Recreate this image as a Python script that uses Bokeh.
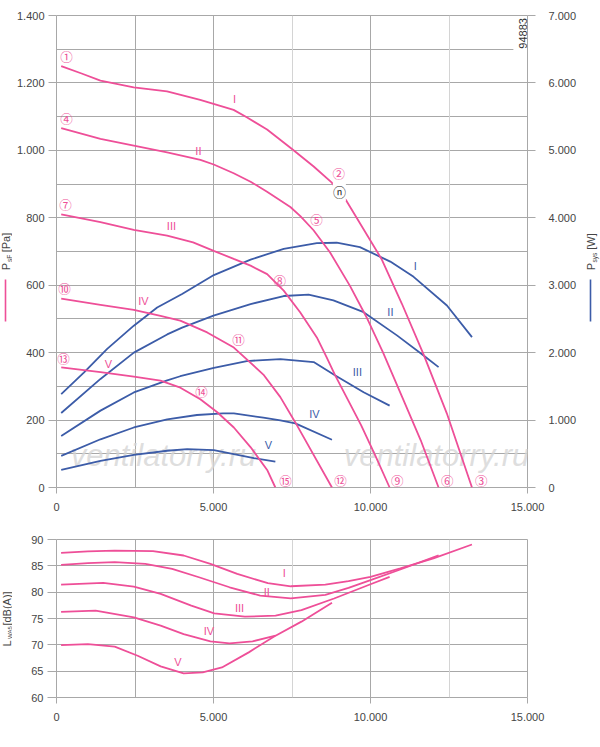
from math import pi

from bokeh.embed import file_html
from bokeh.layouts import column, row
from bokeh.models import BoxAnnotation, FixedTicker, Grid, Label, LinearAxis, Range1d
from bokeh.plotting import figure
from bokeh.resources import INLINE

# ---- axes ----
flow_ticks = [0, 5000, 10000, 15000]
flow_grid = [0, 2500, 5000, 10000, 15000]
flow_grid_light = [7500, 12500]
pa_ticks = [0, 200, 400, 600, 800, 1000, 1200, 1400]
pa_grid = [0, 100, 200, 300, 400, 500, 600, 700, 800, 900, 1000, 1100, 1200, 1300, 1400]
watt_ticks = [0, 1000, 2000, 3000, 4000, 5000, 6000, 7000]
db_ticks = [60, 65, 70, 75, 80, 85, 90]

curve_names = ["I", "II", "III", "IV", "V"]

# ---- static pressure psF [Pa] over qv [m3/h] ----
psf_I_q = [150, 800, 1400, 2460, 3520, 4576, 5640, 6059, 6706, 7500, 8190, 8760, 9009, 9236, 10350, 11000, 11690, 12430, 13232]
psf_I = [1250, 1228, 1207, 1187, 1175, 1150, 1120, 1098, 1062, 1004, 952, 905, 877, 850, 678, 545, 395, 220, 0]
psf_II_q = [150, 1400, 2461, 3523, 4583, 5007, 5643, 6181, 6706, 7447, 7766, 8186, 8713, 9346, 9874, 10401, 11000, 11600, 12168]
psf_II = [1066, 1034, 1014, 994, 972, 958, 932, 907, 877, 832, 805, 763, 697, 598, 505, 400, 270, 140, 0]
psf_III_q = [150, 1400, 2461, 3523, 4350, 5007, 5643, 6181, 6709, 7236, 7764, 8291, 8608, 8879, 9236, 9700, 10150, 10609]
psf_III = [810, 787, 764, 747, 727, 702, 678, 658, 633, 584, 519, 445, 385, 332, 268, 185, 95, 0]
psf_IV_q = [150, 1401, 2463, 3312, 3941, 4799, 5648, 6588, 7129, 7606, 8773]
psf_IV = [560, 542, 527, 509, 495, 460, 415, 335, 268, 193, 0]
psf_V_q = [150, 1401, 2463, 3312, 3945, 4580, 5110, 5648, 6178, 6709, 6970]
psf_V = [356, 342, 329, 317, 296, 262, 224, 178, 120, 52, 0]

# ---- power consumption Psys [W] ----
sys_I_q = [150, 870, 1614, 2463, 3206, 4000, 5011, 6181, 7236, 8291, 8924, 9663, 10630, 11373, 12434, 13232]
sys_I = [1385, 1705, 2055, 2400, 2670, 2870, 3150, 3380, 3540, 3625, 3630, 3565, 3350, 3124, 2700, 2230]
sys_II_q = [150, 1401, 2463, 3525, 4000, 5000, 6181, 7236, 8028, 8819, 9781, 10842, 11691, 12168]
sys_II = [1105, 1610, 2000, 2270, 2370, 2550, 2720, 2840, 2860, 2775, 2600, 2256, 1958, 1785]
sys_III_q = [150, 1401, 2463, 3525, 3941, 5011, 6059, 7129, 8190, 8879, 9781, 10609]
sys_III = [765, 1140, 1410, 1590, 1650, 1775, 1875, 1905, 1860, 1660, 1413, 1214]
sys_IV_q = [150, 1401, 2463, 3525, 4471, 5300, 5648, 6588, 7129, 7606, 8773]
sys_IV = [470, 715, 890, 1010, 1075, 1100, 1100, 1035, 995, 950, 708]
sys_V_q = [150, 1401, 2463, 3525, 4161, 5011, 5648, 6285, 6970]
sys_V = [263, 395, 485, 545, 570, 555, 495, 435, 385]

# ---- sound power LWA5 [dB(A)] ----
lwa_I_q = [146, 1000, 1854, 3073, 4049, 4902, 5756, 6732, 7463, 8561, 9300, 10000, 10950, 12005, 13232]
lwa_I = [87.46, 87.75, 87.9, 87.8, 86.96, 85.37, 83.47, 81.7, 81.12, 81.44, 82.1, 82.9, 84.5, 86.4, 89.05]
lwa_II_q = [146, 1000, 1854, 2829, 3683, 4537, 5512, 6488, 7463, 8561, 9300, 10000, 10950, 12170]
lwa_II = [85.18, 85.5, 85.69, 85.37, 84.42, 82.83, 80.93, 79.35, 78.84, 79.5, 80.8, 82.28, 84.3, 87.0]
lwa_III_q = [146, 1488, 2463, 3317, 4293, 5024, 6000, 6976, 7800, 8840, 10000, 10609]
lwa_III = [81.44, 81.76, 81.06, 79.66, 77.44, 75.99, 75.35, 75.54, 76.6, 78.8, 81.5, 82.9]
lwa_IV_q = [146, 1244, 2463, 3317, 4049, 4902, 5512, 6244, 6976, 7800, 8774]
lwa_IV = [76.24, 76.49, 75.22, 73.64, 72.05, 70.66, 70.28, 70.66, 71.74, 74.4, 78.0]
lwa_V_q = [146, 1000, 1854, 2585, 3317, 4049, 4659, 5268, 6122, 6970]
lwa_V = [69.96, 70.15, 69.65, 67.93, 65.9, 64.57, 64.76, 65.71, 68.57, 71.74]

FONT = "Liberation Sans"
CJK = "Noto Sans CJK JP"
PINK = "#ee4f98"
BLUE = "#3c5ca8"
GRID = "#a8a8a8"
GRID_LIGHT = "#d4d4d4"
TEXT = "#454545"

LEFT_W = 12
RIGHT_W = 16
MAIN_W = 600 - LEFT_W - RIGHT_W
PAGE_H = 745


def dotted(v):
    return f"{v:,}".replace(",", ".")


def put(p, x, y, text, color=PINK, size="11px", font=FONT, angle=0, align="center", **kw):
    p.add_layout(Label(x=x, y=y, text=text, text_color=color, text_font=font,
                       text_font_size=size, angle=angle, text_align=align,
                       text_baseline="middle", **kw))


def dress(p, yticks):
    p.outline_line_color = GRID
    p.xaxis.ticker = FixedTicker(ticks=flow_ticks)
    p.xaxis.major_label_overrides = {t: dotted(t) for t in flow_ticks}
    p.xgrid.ticker = FixedTicker(ticks=flow_grid)
    p.xgrid.grid_line_color = GRID
    p.add_layout(Grid(dimension=0, ticker=FixedTicker(ticks=flow_grid_light), grid_line_color=GRID_LIGHT))
    p.ygrid.ticker = FixedTicker(ticks=yticks)
    p.ygrid.grid_line_color = GRID
    for ax in [*p.xaxis, *p.yaxis]:
        ax.axis_line_color = None
        ax.major_tick_line_color = GRID
        ax.major_tick_in = 0
        ax.minor_tick_line_color = None
        ax.major_label_text_font = FONT
        ax.major_label_text_font_size = "11px"
        ax.major_label_text_color = TEXT
    p.xaxis.major_tick_out = 6
    p.xaxis.major_label_standoff = 9


def flow_title(p, y, ysub):
    put(p, 6876, y, "q", color=TEXT)
    put(p, 7067, ysub, "v", color=TEXT, size="6.5px")
    put(p, 7194, y, "[m³/h]", color=TEXT, align="left")


def strip(w):
    # narrow side panel in page pixels (y downwards) for the rotated axis titles
    s = figure(width=w, height=PAGE_H, x_range=Range1d(0, w), y_range=Range1d(PAGE_H, 0),
               x_axis_type=None, y_axis_type=None, output_backend="svg", toolbar_location=None,
               min_border=0, outline_line_color=None)
    s.grid.visible = False
    return s


# ================= top: pressure + power =================
top = figure(width=MAIN_W, height=530, x_range=Range1d(0, 15000), y_range=Range1d(0, 1400),
             output_backend="svg", toolbar_location=None,
             min_border_left=44, min_border_right=57, min_border_top=15, min_border_bottom=43)
top.extra_y_ranges = {"watt": Range1d(0, 7000)}
top.add_layout(LinearAxis(y_range_name="watt", ticker=FixedTicker(ticks=watt_ticks),
                          major_label_overrides={t: dotted(t) for t in watt_ticks}), "right")
dress(top, pa_grid)
top.yaxis[0].ticker = FixedTicker(ticks=pa_ticks)
top.yaxis[0].major_label_overrides = {t: dotted(t) for t in pa_ticks}
top.yaxis[0].major_tick_out = 8
top.yaxis[0].major_label_standoff = 4
top.yaxis[1].major_tick_out = 8
top.yaxis[1].major_label_standoff = 13

# watermark
for wx in (3408, 12102):
    put(top, wx, 95, "ventilatorry.ru", color="#d6d6d6", size="31px",
        text_font_style="italic", text_alpha=0.8, level="underlay")

psf = [(psf_I_q, psf_I), (psf_II_q, psf_II), (psf_III_q, psf_III), (psf_IV_q, psf_IV), (psf_V_q, psf_V)]
sys_ = [(sys_I_q, sys_I), (sys_II_q, sys_II), (sys_III_q, sys_III), (sys_IV_q, sys_IV), (sys_V_q, sys_V)]
for q, v in sys_:
    top.line(q, v, y_range_name="watt", line_color=BLUE, line_width=1.8)
for q, v in psf:
    top.line(q, v, line_color=PINK, line_width=1.8)

# curve names
for (x, y), name in zip([(5666, 1153), (4520, 999), (3661, 777), (2770, 553), (1655, 367)], curve_names):
    put(top, x, y, name)
for (x, y), name in zip([(11428, 658), (10633, 521), (9582, 343), (8213, 219), (6749, 127)], curve_names):
    put(top, x, y, name, color=BLUE)

# operating point markers
marks = [("①", 318, 1278), ("④", 318, 1094), ("⑦", 287, 839), ("⑩", 255, 590), ("⑬", 223, 382),
         ("②", 8991, 932), ("⑤", 8280, 794), ("⑧", 7111, 614), ("⑪", 5796, 439), ("⑭", 4618, 285),
         ("③", 13529, 20), ("⑥", 12447, 20), ("⑨", 10855, 20), ("⑫", 9041, 20), ("⑮", 7290, 20)]
for t, x, y in marks:
    put(top, x, y, t, size="12.5px", font=CJK)
put(top, 9009, 877, "ⓝ", color="#222222", size="13px", font=CJK,
    background_fill_color="white")

# drawing number
top.add_layout(BoxAnnotation(left=14550, right=14985, bottom=1290, top=1310,
                             fill_color="white", fill_alpha=1, line_alpha=0))
put(top, 14841, 1347, "94883", color="#333333", angle=pi / 2)
flow_title(top, -105, -114)

# ================= bottom: sound power =================
bottom = figure(width=MAIN_W, height=PAGE_H - 530, x_range=Range1d(0, 15000), y_range=Range1d(60, 90),
                output_backend="svg", toolbar_location=None,
                min_border_left=44, min_border_right=57, min_border_top=9, min_border_bottom=48)
dress(bottom, db_ticks)
bottom.yaxis.ticker = FixedTicker(ticks=db_ticks)
bottom.yaxis.major_tick_out = 9
bottom.yaxis.major_label_standoff = 4

lwa = [(lwa_I_q, lwa_I), (lwa_II_q, lwa_II), (lwa_III_q, lwa_III), (lwa_IV_q, lwa_IV), (lwa_V_q, lwa_V)]
for q, v in lwa:
    bottom.line(q, v, line_color=PINK, line_width=1.8)
for (x, y), name in zip([(7256, 83.6), (6695, 80.1), (5829, 76.9), (4854, 72.56), (3866, 66.67)], curve_names):
    put(bottom, x, y, name)
flow_title(bottom, 53.73, 53.16)

# ================= side strips with the y axis titles =================
left = strip(LEFT_W)
put(left, 5.5, 266, "P", color=TEXT, angle=pi / 2)
put(left, 9, 258, "sF", color=TEXT, size="6.5px", angle=pi / 2)
put(left, 5.5, 242, "[Pa]", color=TEXT, angle=pi / 2)
left.line([5, 5], [279, 321], line_color=PINK, line_width=1.6)
put(left, 6, 643, "L", color=TEXT, angle=pi / 2)
put(left, 9.3, 632, "WA5", color=TEXT, size="6px", angle=pi / 2)
put(left, 6, 608, "[dB(A)]", color=TEXT, angle=pi / 2)

right = strip(RIGHT_W)
put(right, 6, 266, "P", color=TEXT, angle=pi / 2)
put(right, 10, 257, "sys", color=TEXT, size="6.5px", angle=pi / 2)
put(right, 6, 241, "[W]", color=TEXT, angle=pi / 2)
right.line([6, 6], [279, 321], line_color=BLUE, line_width=1.6)

page = row(left, column(top, bottom), right)
open("out.html", "w").write(file_html(page, INLINE, title="Fan curves"))
